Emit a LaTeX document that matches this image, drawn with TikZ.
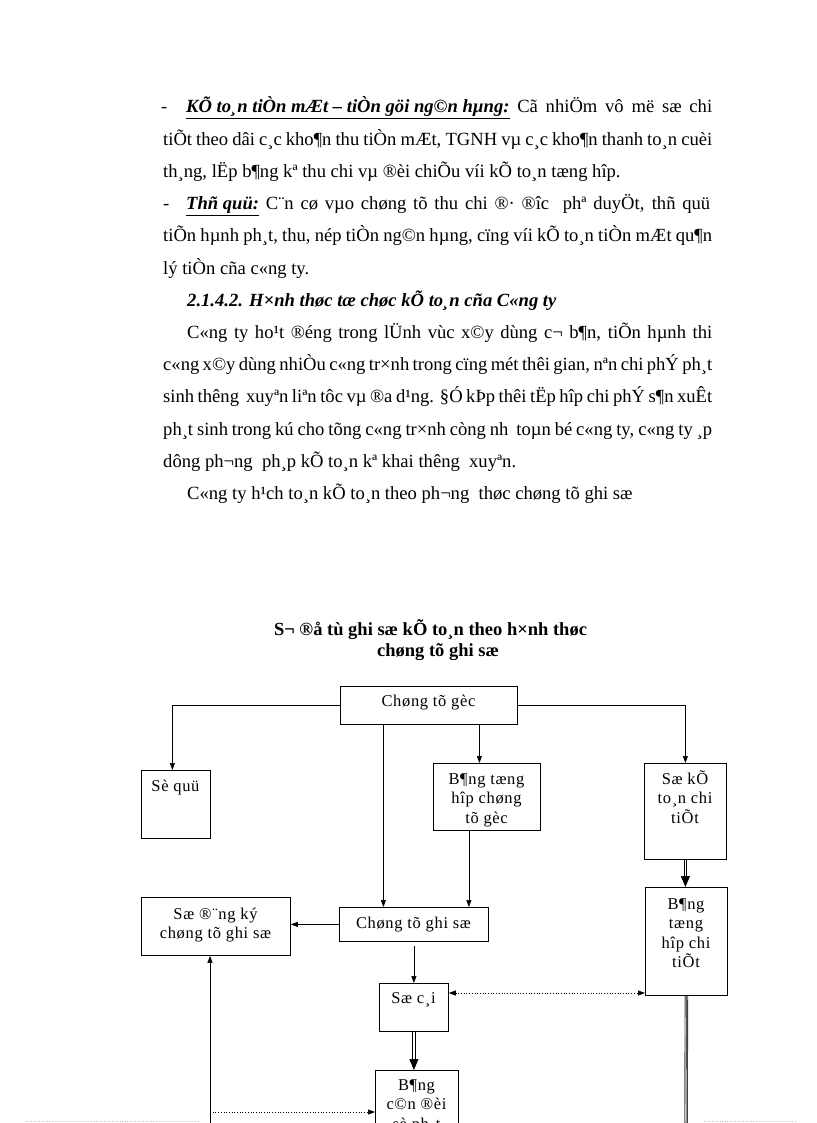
\documentclass[tikz,border=0pt]{standalone}
\usepackage{fontspec}
\setmainfont{Liberation Serif}
\newfontfamily\boxfont[LetterSpace=4]{Liberation Serif}
\usetikzlibrary{arrows.meta,calc}
\newcommand{\ttl}[1]{\underline{\textbf{\textit{#1}}}}
\newcommand{\jl}[2]{\makebox[#1][s]{#2}}
\begin{document}
\begin{tikzpicture}[x=1pt,y=-1pt,
  body/.style={anchor=base west, inner sep=0, font=\fontsize{18.6}{20}\selectfont},
  ttlstyle/.style={anchor=base, inner sep=0, font=\fontsize{18.5}{20}\selectfont\bfseries},
  box/.style={draw, line width=0.8pt, inner sep=0, anchor=north west},
  btxt/.style={anchor=base, inner sep=0, font=\boxfont\fontsize{16.5}{19.5}\selectfont},
  arr/.style={line width=0.7pt, -{Triangle[length=7pt,width=5pt]}},
  ln/.style={line width=0.8pt},
  dotarr/.style={line width=0.7pt, dotted, {Triangle[length=7pt,width=5pt]}-{Triangle[length=7pt,width=5pt]}},
  dotr/.style={line width=0.7pt, dotted, -{Triangle[length=7pt,width=5pt]}},
  bigtip/.style={line width=0.7pt, -{Triangle[length=11pt,width=9pt]}},
  pagemark/.style={black!25, dotted, line width=0.6pt}
]
\useasboundingbox (0,0) rectangle (816,1123);
\clip (0,0) rectangle (816,1123);
% ---------- body text ----------
\node[body] (d1) at (161,113) {-};
\node[body] (l1) at (186,113) {\jl{526pt}{\ttl{KÕ to¸n tiÒn mÆt – tiÒn göi ng©n hµng:} Cã nhiÖm vô më sæ chi}};
\node[body] (l2) at (163,145.2) {\jl{549pt}{tiÕt theo dâi c¸c kho¶n thu tiÒn mÆt, TGNH vµ c¸c kho¶n thanh to¸n cuèi}};
\node[body] (l3) at (163,177.4) {th¸ng, lËp b¶ng kª thu chi vµ ®èi chiÕu víi kÕ to¸n tæng hîp.};
\node[body] (d4) at (163,209.6) {-};
\node[body] (l4) at (186,209.6) {\jl{524pt}{\ttl{Thñ quü:} C¨n cø vµo chøng tõ thu chi ®· ®îc\ \ phª duyÖt, thñ quü}};
\node[body] (l5) at (163,241.8) {\jl{549pt}{tiÕn hµnh ph¸t, thu, nép tiÒn ng©n hµng, cïng víi kÕ to¸n tiÒn mÆt qu¶n}};
\node[body] (l6) at (163,274) {lý tiÒn cña c«ng ty.};
\node[body] (l7) at (187,306.2) {\textbf{\textit{2.1.4.2. H×nh thøc tæ chøc kÕ to¸n cña C«ng ty}}};
\node[body] (l8) at (187,338.4) {\jl{525pt}{C«ng ty ho¹t ®éng trong lÜnh vùc x©y dùng c¬ b¶n, tiÕn hµnh thi}};
\node[body] (l9) at (163,370.6) {\jl{549pt}{c«ng x©y dùng nhiÒu c«ng tr×nh trong cïng mét thêi gian, nªn chi phÝ ph¸t}};
\node[body] (l10) at (163,402.8) {\jl{549pt}{sinh thêng\ \ xuyªn liªn tôc vµ ®a d¹ng. §Ó kÞp thêi tËp hîp chi phÝ s¶n xuÊt}};
\node[body] (l11) at (163,435) {\jl{549pt}{ph¸t sinh trong kú cho tõng c«ng tr×nh còng nh\ \ toµn bé c«ng ty, c«ng ty ¸p}};
\node[body] (l12) at (163,467.2) {dông ph¬ng\ \ ph¸p kÕ to¸n kª khai thêng\ \ xuyªn.};
\node[body] (l13) at (187,499.4) {C«ng ty h¹ch to¸n kÕ to¸n theo ph¬ng\ \ thøc chøng tõ ghi sæ};
% ---------- diagram title ----------
\node[ttlstyle] (t1) at (430.5,635) {S¬ ®å tù ghi sæ kÕ to¸n theo h×nh thøc};
\node[ttlstyle] (t2) at (438,656) {chøng tõ ghi sæ};
% ---------- boxes ----------
\node[box, minimum width=177pt, minimum height=38pt] (cg) at (340,686) {};
\node[btxt] (cg-t) at (428.5,706) {Chøng tõ gèc};
\node[box, minimum width=69pt, minimum height=68pt] (sq) at (141,770) {};
\node[btxt] (sq-t) at (175.5,791) {Sè quü};
\node[box, minimum width=107pt, minimum height=67pt] (bth) at (433,763) {};
\node[btxt] (bth-t) at (486.5,784) {\parbox[t]{107pt}{\centering B¶ng tæng\\hîp chøng\\tõ gèc}};
\node[box, minimum width=82pt, minimum height=96pt] (skt) at (644,763) {};
\node[btxt] (skt-t) at (685,784) {\parbox[t]{82pt}{\centering Sæ kÕ\\to¸n chi\\tiÕt}};
\node[box, minimum width=149pt, minimum height=34pt] (cgs) at (339,907) {};
\node[btxt] (cgs-t) at (413.5,928) {Chøng tõ ghi sæ};
\node[box, minimum width=149pt, minimum height=58pt] (sdk) at (141,897) {};
\node[btxt] (sdk-t) at (215.5,919) {\parbox[t]{149pt}{\centering Sæ ®¨ng ký\\chøng tõ ghi sæ}};
\node[box, minimum width=69pt, minimum height=48pt] (sc) at (379,983) {};
\node[btxt] (sc-t) at (413.5,1003) {Sæ c¸i};
\node[box, minimum width=82pt, minimum height=108pt] (bct) at (645,887) {};
\node[btxt] (bct-t) at (686,909) {\parbox[t]{82pt}{\centering B¶ng\\tæng\\hîp chi\\tiÕt}};
\node[box, minimum width=83pt, minimum height=90pt] (bcd) at (375,1070) {};
\node[btxt] (bcd-t) at (416.5,1090) {\parbox[t]{83pt}{\centering B¶ng\\c©n ®èi\\sè ph¸t}};
% ---------- connectors ----------
\draw[arr] (cg.west) -| ([xshift=-3.5pt]sq.north);
\draw[arr] (cg.east) -| (skt.north);
\draw[arr] ([xshift=-7.5pt]bth.north |- cg.south) -- ([xshift=-7.5pt]bth.north);
\draw[arr] ([xshift=-30.5pt]cgs.north |- cg.south) -- ([xshift=-30.5pt]cgs.north);
\draw[arr] ([xshift=-18pt]bth.south) -- ([xshift=-18pt]bth.south |- cgs.north);
\draw[arr] (cgs.west) -- (cgs.west -| sdk.east);
\draw[arr] ([yshift=-4pt]cgs.south) -- (sc.north);
% double arrow Sae ke toan chi tiet -> Bang tong hop chi tiet
\coordinate (a1) at (skt.south |- bct.north);
\draw[ln] ([xshift=-1.3pt]skt.south) -- ($(a1)+(-1.3,-8)$);
\draw[ln] ([xshift=1.3pt]skt.south) -- ($(a1)+(1.3,-8)$);
\draw[bigtip] ($(a1)+(0,-11)$) -- (a1);
% dotted two-way arrow
\draw[dotarr] ([yshift=-10pt]sc.north east) -- ([yshift=-10pt]sc.north east -| bct.west);
% right double line going down
\coordinate (rb) at (686,1135);
\draw[line width=0.9pt, black!75] ([xshift=-1.3pt]bct.south) -- ($(rb)+(-1.3,0)$);
\draw[line width=0.9pt, black!75] ([xshift=1.3pt]bct.south) -- ($(rb)+(1.3,0)$);
\draw[line width=0.6pt] (bct.south) -- (rb);
% double arrow Sae cai -> Bang can doi
\coordinate (a2) at (sc.south |- bcd.north);
\draw[ln] ([xshift=-1.3pt]sc.south) -- ($(a2)+(-1.3,-8)$);
\draw[ln] ([xshift=1.3pt]sc.south) -- ($(a2)+(1.3,-8)$);
\draw[bigtip] ($(a2)+(0,-11)$) -- (a2);
% left loop
\coordinate (lb) at (210,1125);
\coordinate (ld) at (210,1112);
\draw[arr] (lb) -- (lb |- sdk.south);
\draw[dotr] (ld) -- (ld -| bcd.west);
% ---------- faint page marks ----------
\coordinate (m1) at (26,1121.5); \coordinate (m2) at (199,1121.5);
\coordinate (m3) at (704,1121.5); \coordinate (m4) at (796,1121.5);
\draw[pagemark] (m1) -- (m2);
\draw[pagemark] (m3) -- (m4);
\end{tikzpicture}
\end{document}
